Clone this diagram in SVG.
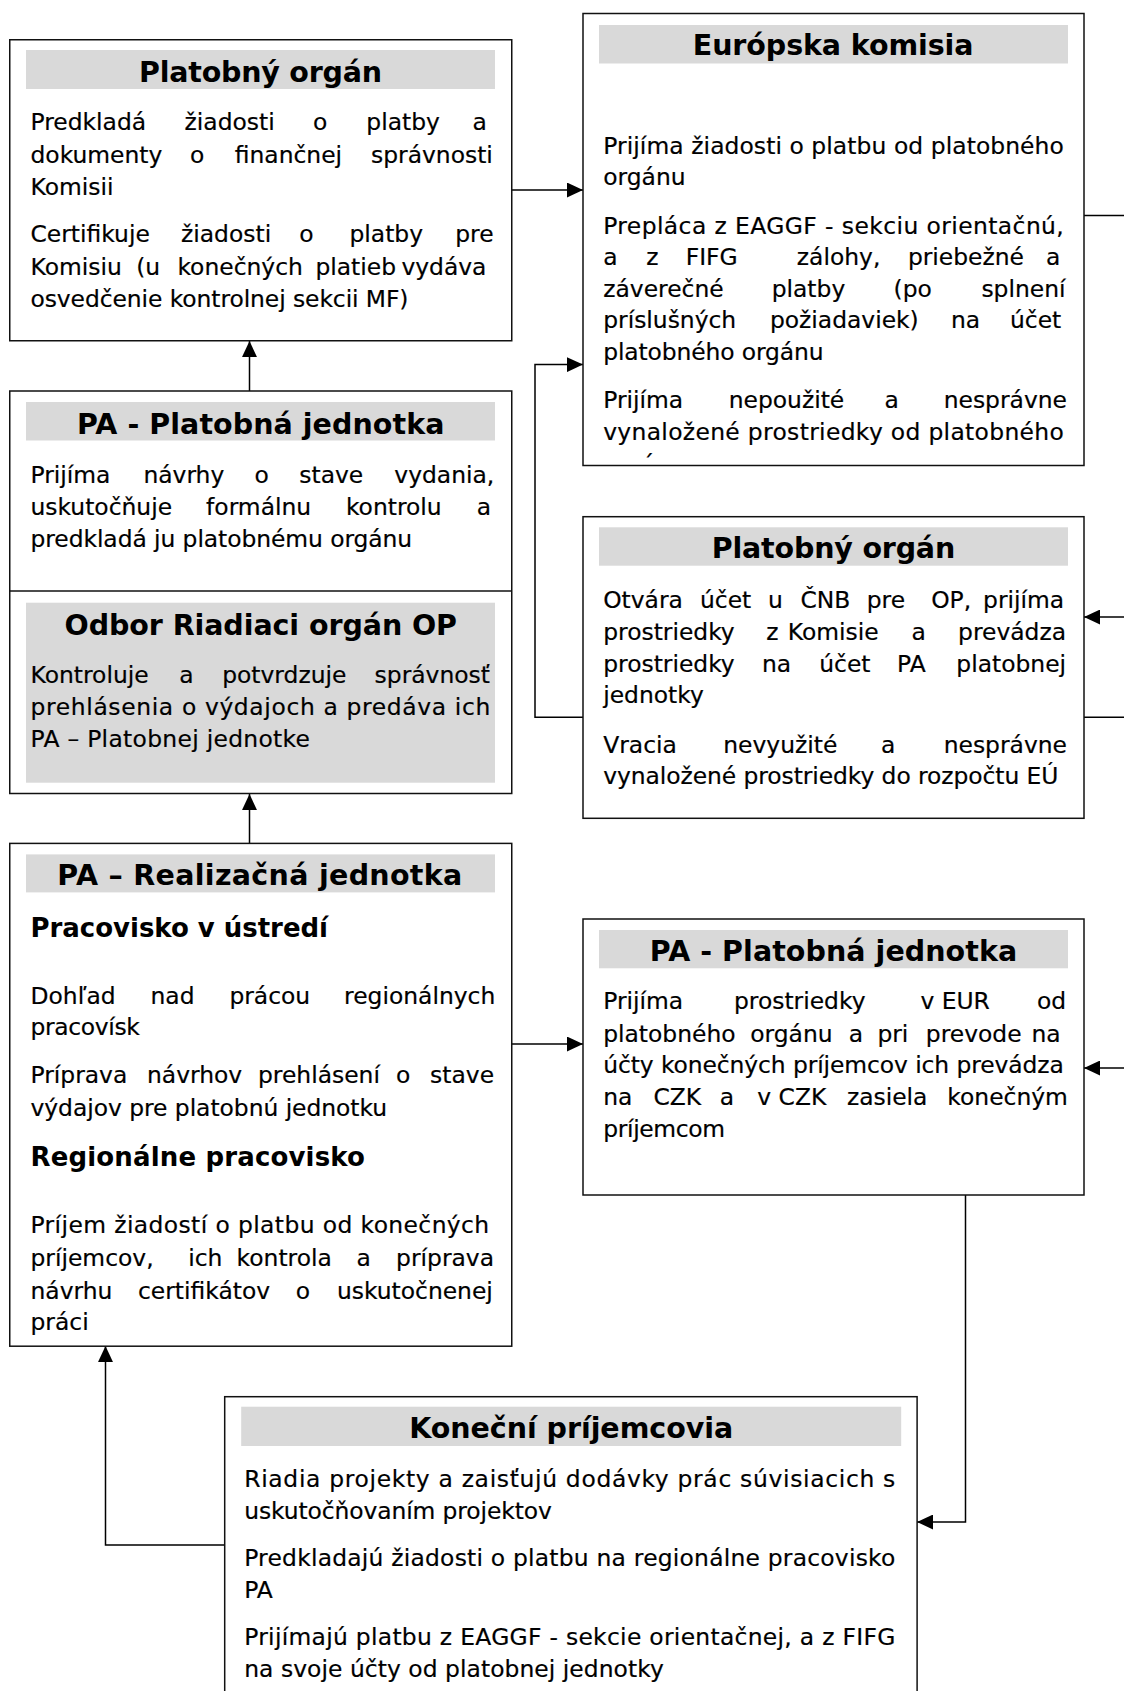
<svg xmlns="http://www.w3.org/2000/svg" width="1124" height="1691" viewBox="0 0 1124 1691">
<defs>
<style>
.box{fill:#fff;stroke:#111;stroke-width:1.5}
.hd{fill:#d9d9d9}
.t{font-family:"DejaVu Sans",Verdana,sans-serif;font-weight:bold;font-size:28.5px;fill:#000}
.s{font-family:"DejaVu Sans",Verdana,sans-serif;font-weight:bold;font-size:26px;fill:#000}
.b{font-family:"DejaVu Sans",Verdana,sans-serif;font-size:23.4px;fill:#000;stroke:#000;stroke-width:0.2}
.c{fill:none;stroke:#000;stroke-width:1.5}
</style>
<marker id="ah" markerUnits="userSpaceOnUse" markerWidth="16" markerHeight="15" viewBox="0 0 15 14" refX="15" refY="7" orient="auto">
<path d="M0,0 L15,7 L0,14 Z" fill="#000"/>
</marker>
<clipPath id="clipEK"><rect x="583" y="13" width="501" height="445"/></clipPath>
</defs>
<rect width="1124" height="1691" fill="#fff"/>

<g id="connectors">
<line class="c" x1="511.75" y1="190" x2="583" y2="190" marker-end="url(#ah)"/>
<line class="c" x1="249.5" y1="391" x2="249.5" y2="341" marker-end="url(#ah)"/>
<line class="c" x1="249.5" y1="843.4" x2="249.5" y2="794" marker-end="url(#ah)"/>
<polyline class="c" points="583,717.3 535,717.3 535,364.6 583,364.6" marker-end="url(#ah)"/>
<line class="c" x1="1084" y1="215.5" x2="1124" y2="215.5"/>
<line class="c" x1="1124" y1="617" x2="1084" y2="617" marker-end="url(#ah)"/>
<line class="c" x1="1084" y1="717.3" x2="1124" y2="717.3"/>
<line class="c" x1="511.75" y1="1044" x2="583" y2="1044" marker-end="url(#ah)"/>
<line class="c" x1="1124" y1="1068" x2="1084" y2="1068" marker-end="url(#ah)"/>
<polyline class="c" points="965.5,1195 965.5,1522 917,1522" marker-end="url(#ah)"/>
<polyline class="c" points="224.7,1545 105.5,1545 105.5,1346" marker-end="url(#ah)"/>
</g>

<g id="n-platobny-organ-1">
<rect class="box" x="9.75" y="39.75" width="502" height="301"/>
<rect class="hd" x="26" y="50" width="469" height="39"/>
<text class="t" x="139" y="82" textLength="243">Platobný orgán</text>
<text class="b" y="130"><tspan x="30.5">Predkladá</tspan><tspan x="184.6">žiadosti</tspan><tspan x="312.9">o</tspan><tspan x="366.3">platby</tspan><tspan x="472.4">a</tspan></text>
<text class="b" y="162.5"><tspan x="30.5">dokumenty</tspan><tspan x="190">o</tspan><tspan x="234.8">finančnej</tspan><tspan x="371">správnosti</tspan></text>
<text class="b" x="30.5" y="194.5">Komisii</text>
<text class="b" y="242"><tspan x="30.5">Certifikuje</tspan><tspan x="181">žiadosti</tspan><tspan x="299.3">o</tspan><tspan x="349.5">platby</tspan><tspan x="455.2">pre</tspan></text>
<text class="b" y="274.5"><tspan x="30.5">Komisiu</tspan><tspan x="136.2">(u</tspan><tspan x="177.4">konečných</tspan><tspan x="315.4">platieb</tspan><tspan x="401.4">vydáva</tspan></text>
<text class="b" x="30.5" y="306.5" textLength="378">osvedčenie kontrolnej sekcii MF)</text>
</g>

<g id="n-europska-komisia">
<rect class="box" x="583" y="13.5" width="501" height="452"/>
<rect class="hd" x="599" y="25" width="469" height="38.5"/>
<text class="t" x="692.8" y="55" textLength="280.7">Európska komisia</text>
<text class="b" x="603.2" y="153.5" textLength="460.6">Prijíma žiadosti o platbu od platobného</text>
<text class="b" x="603.2" y="185">orgánu</text>
<text class="b" x="603.2" y="233.5" textLength="460.6">Prepláca z EAGGF - sekciu orientačnú,</text>
<text class="b" y="265"><tspan x="603.2">a</tspan><tspan x="646.2">z</tspan><tspan x="685.7">FIFG</tspan><tspan x="796.8">zálohy,</tspan><tspan x="907.9">priebežné</tspan><tspan x="1045.9">a</tspan></text>
<text class="b" y="296.7"><tspan x="603.2">záverečné</tspan><tspan x="771.7">platby</tspan><tspan x="893.5">(po</tspan><tspan x="981.4">splnení</tspan></text>
<text class="b" y="328.3"><tspan x="603.2">príslušných</tspan><tspan x="769.9">požiadaviek)</tspan><tspan x="950.9">na</tspan><tspan x="1010">účet</tspan></text>
<text class="b" x="603.2" y="360" textLength="220.4">platobného orgánu</text>
<text class="b" y="408.3"><tspan x="603.2">Prijíma</tspan><tspan x="728.7">nepoužité</tspan><tspan x="884.6">a</tspan><tspan x="943.7">nesprávne</tspan></text>
<text class="b" x="603.2" y="440" textLength="460.6">vynaložené prostriedky od platobného</text>
<text class="b" x="603.2" y="472" clip-path="url(#clipEK)">orgánu</text>
</g>

<g id="n-pa-platobna-jednotka-1">
<rect class="box" x="9.75" y="391" width="502" height="402.5"/>
<rect class="hd" x="26" y="402" width="469" height="38.5"/>
<text class="t" x="77" y="434" textLength="367.4">PA - Platobná jednotka</text>
<text class="b" y="482.5"><tspan x="30.5">Prijíma</tspan><tspan x="143.4">návrhy</tspan><tspan x="254.5">o</tspan><tspan x="299.3">stave</tspan><tspan x="394.3">vydania,</tspan></text>
<text class="b" y="514.5"><tspan x="30.5">uskutočňuje</tspan><tspan x="206.1">formálnu</tspan><tspan x="345.9">kontrolu</tspan><tspan x="476.7">a</tspan></text>
<text class="b" x="30.5" y="546.5" textLength="381.7">predkladá ju platobnému orgánu</text>
<line x1="9.75" y1="591" x2="511.75" y2="591" stroke="#111" stroke-width="1.5"/>
</g>

<g id="n-odbor-riadiaci-organ">
<rect class="hd" x="26" y="602.7" width="469" height="180"/>
<text class="t" x="64.5" y="635" textLength="392.5">Odbor Riadiaci orgán OP</text>
<text class="b" y="682.7"><tspan x="30.5">Kontroluje</tspan><tspan x="179.2">a</tspan><tspan x="222.2">potvrdzuje</tspan><tspan x="374.6">správnosť</tspan></text>
<text class="b" x="30.5" y="715" textLength="459.8">prehlásenia o výdajoch a predáva ich</text>
<text class="b" x="30.5" y="746.7" textLength="279.5">PA – Platobnej jednotke</text>
</g>

<g id="n-platobny-organ-2">
<rect class="box" x="583" y="516.7" width="501" height="301.6"/>
<rect class="hd" x="599" y="527.3" width="469" height="38.4"/>
<text class="t" x="711.8" y="558.3" textLength="243.4">Platobný orgán</text>
<text class="b" y="608.3"><tspan x="603.2">Otvára</tspan><tspan x="700">účet</tspan><tspan x="768.1">u</tspan><tspan x="800.4">ČNB</tspan><tspan x="866.7">pre</tspan><tspan x="931.2">OP,</tspan><tspan x="983.1">prijíma</tspan></text>
<text class="b" y="640"><tspan x="603.2">prostriedky</tspan><tspan x="766.3">z</tspan><tspan x="787.8">Komisie</tspan><tspan x="911.5">a</tspan><tspan x="958.1">prevádza</tspan></text>
<text class="b" y="671.7"><tspan x="603.2">prostriedky</tspan><tspan x="762">na</tspan><tspan x="819.3">účet</tspan><tspan x="897.1">PA</tspan><tspan x="956.3">platobnej</tspan></text>
<text class="b" x="603.2" y="703">jednotky</text>
<text class="b" y="752.7"><tspan x="603.2">Vracia</tspan><tspan x="723.3">nevyužité</tspan><tspan x="881">a</tspan><tspan x="943.7">nesprávne</tspan></text>
<text class="b" x="603.2" y="784" textLength="455.2">vynaložené prostriedky do rozpočtu EÚ</text>
</g>

<g id="n-pa-realizacna-jednotka">
<rect class="box" x="9.75" y="843.4" width="502" height="502.8"/>
<rect class="hd" x="26" y="854.4" width="469" height="38"/>
<text class="t" x="57.3" y="885.4" textLength="405">PA – Realizačná jednotka</text>
<text class="s" x="30.5" y="937" textLength="297.5">Pracovisko v ústredí</text>
<text class="b" y="1004.2"><tspan x="30.5">Dohľad</tspan><tspan x="150.5">nad</tspan><tspan x="229.4">prácou</tspan><tspan x="344.1">regionálnych</tspan></text>
<text class="b" x="30.5" y="1035.2" textLength="109.3">pracovísk</text>
<text class="b" y="1083.4"><tspan x="30.5">Príprava</tspan><tspan x="147">návrhov</tspan><tspan x="258">prehlásení</tspan><tspan x="396">o</tspan><tspan x="430.1">stave</tspan></text>
<text class="b" x="30.5" y="1115.5" textLength="356.6">výdajov pre platobnú jednotku</text>
<text class="s" x="30.5" y="1166" textLength="334.4">Regionálne pracovisko</text>
<text class="b" x="30.5" y="1233.2" textLength="458.7">Príjem žiadostí o platbu od konečných</text>
<text class="b" y="1265.9"><tspan x="30.5">príjemcov,</tspan><tspan x="188.2">ich</tspan><tspan x="236.6">kontrola</tspan><tspan x="356.6">a</tspan><tspan x="396.1">príprava</tspan></text>
<text class="b" y="1298.7"><tspan x="30.5">návrhu</tspan><tspan x="138">certifikátov</tspan><tspan x="295.7">o</tspan><tspan x="336.9">uskutočnenej</tspan></text>
<text class="b" x="30.5" y="1329.6">práci</text>
</g>

<g id="n-pa-platobna-jednotka-2">
<rect class="box" x="583" y="919" width="501" height="276"/>
<rect class="hd" x="599" y="930" width="469" height="38.3"/>
<text class="t" x="649.8" y="961" textLength="367.4">PA - Platobná jednotka</text>
<text class="b" y="1009.3"><tspan x="603.2">Prijíma</tspan><tspan x="734">prostriedky</tspan><tspan x="920.4">v EUR</tspan><tspan x="1036.9">od</tspan></text>
<text class="b" y="1041.7"><tspan x="603.2">platobného</tspan><tspan x="750.2">orgánu</tspan><tspan x="848.7">a</tspan><tspan x="877.4">pri</tspan><tspan x="925.8">prevode</tspan><tspan x="1031.5">na</tspan></text>
<text class="b" x="603.2" y="1073.3" textLength="460.6">účty konečných príjemcov ich prevádza</text>
<text class="b" y="1105"><tspan x="603.2">na</tspan><tspan x="653.4">CZK</tspan><tspan x="719.7">a</tspan><tspan x="757.3">v CZK</tspan><tspan x="846.9">zasiela</tspan><tspan x="947.3">konečným</tspan></text>
<text class="b" x="603.2" y="1136.7" textLength="121.9">príjemcom</text>
</g>

<g id="n-konecni-prijemcovia">
<rect class="box" x="224.7" y="1396.7" width="692.4" height="320"/>
<rect class="hd" x="241.2" y="1406.7" width="660" height="39.3"/>
<text class="t" x="409.2" y="1438.3" textLength="324">Koneční príjemcovia</text>
<text class="b" x="244.2" y="1487" textLength="651.1">Riadia projekty a zaisťujú dodávky prác súvisiacich s</text>
<text class="b" x="244.2" y="1519" textLength="307.6">uskutočňovaním projektov</text>
<text class="b" x="244.2" y="1566" textLength="651.1">Predkladajú žiadosti o platbu na regionálne pracovisko</text>
<text class="b" x="244.2" y="1598">PA</text>
<text class="b" x="244.2" y="1645" textLength="651.1">Prijímajú platbu z EAGGF - sekcie orientačnej, a z FIFG</text>
<text class="b" x="244.2" y="1677" textLength="419.6">na svoje účty od platobnej jednotky</text>
</g>
</svg>
